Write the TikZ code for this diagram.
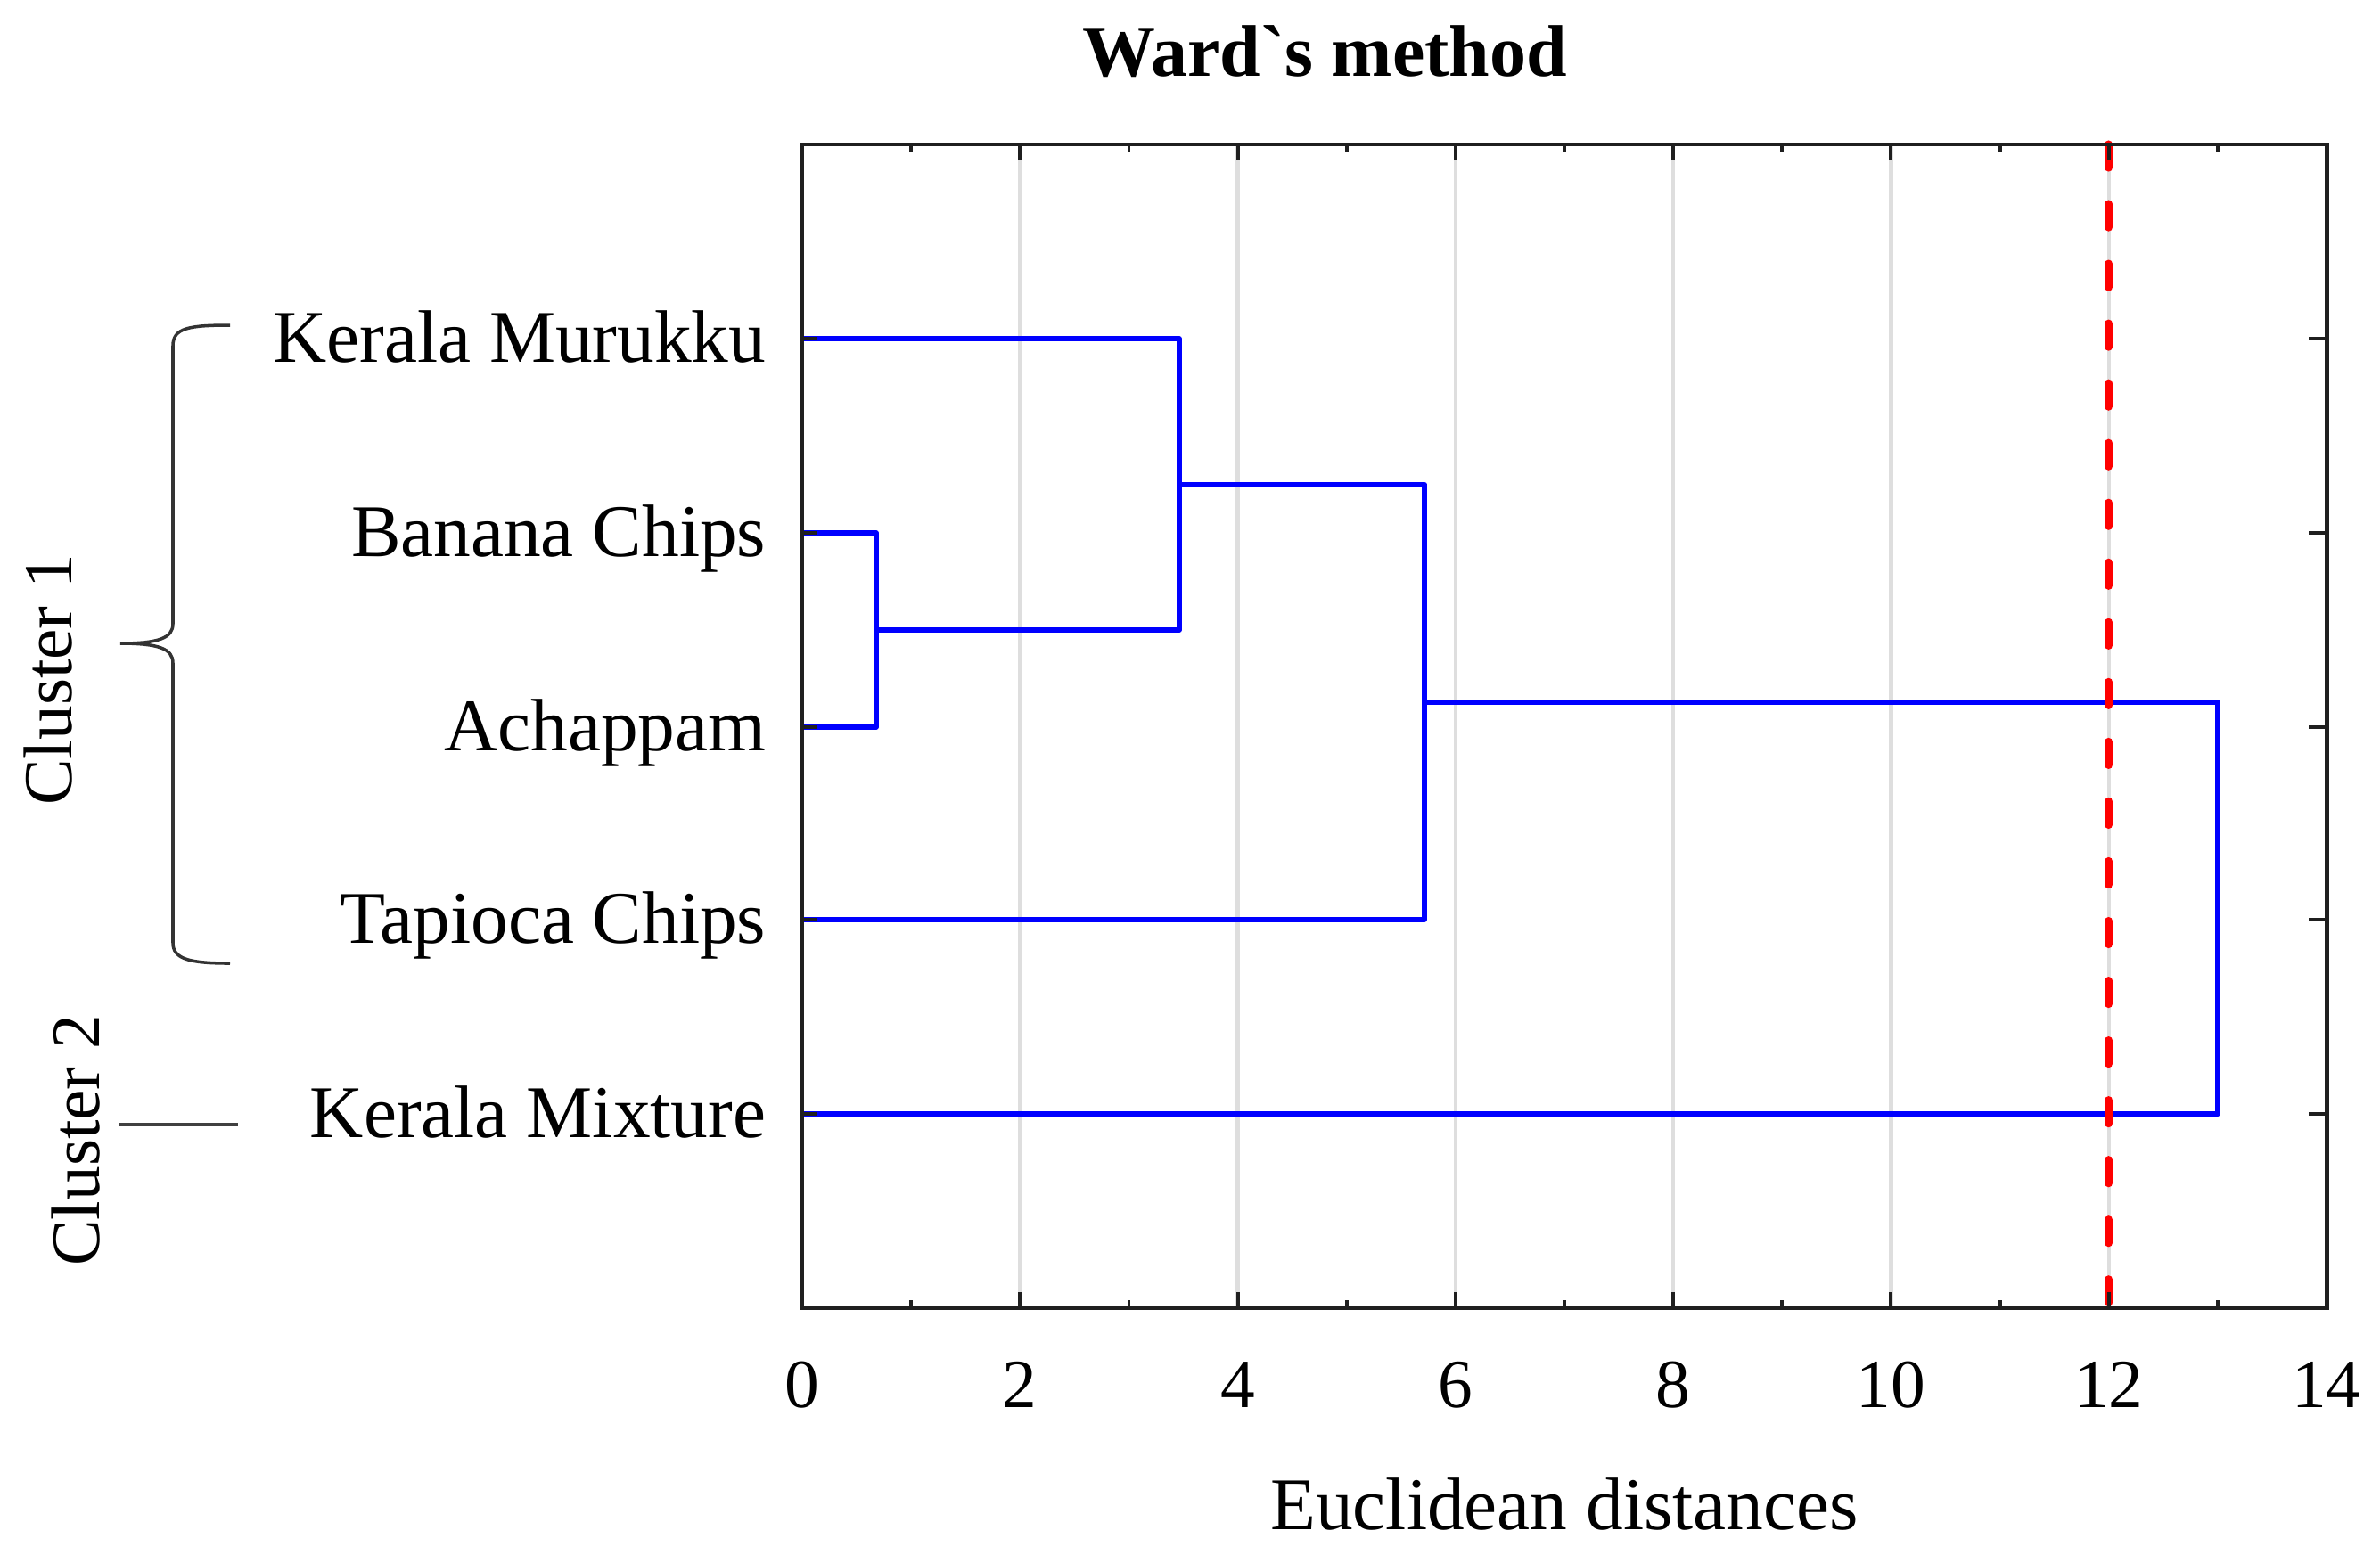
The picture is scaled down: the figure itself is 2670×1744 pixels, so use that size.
\documentclass[tikz,border=0pt]{standalone}
\usepackage{fontspec}
\setmainfont{Liberation Serif}
\newfontfamily\titlefont{Liberation Serif}[Ligatures=TeXOff]
\begin{document}
\begin{tikzpicture}[x=0.01cm,y=-0.01cm,
  frame/.style={draw=black!88, line width=1.4pt},
  gridln/.style={draw=black!13, line width=1.2pt},
  tickln/.style={draw=black!88, line width=1.1pt},
  dend/.style={draw=blue, line width=1.55pt, line join=round},
  cut/.style={draw=red, line width=2.6pt, line cap=round, dash pattern=on 0.26cm off 0.41cm},
  lab/.style={inner sep=0pt, font=\fontsize{23.7pt}{28pt}\selectfont},
  num/.style={inner sep=0pt, font=\fontsize{22pt}{26pt}\selectfont},
  clab/.style={inner sep=0pt, rotate=90, anchor=base, font=\fontsize{22pt}{26pt}\selectfont},
  brace/.style={draw=black!80, line width=1pt},
]
\useasboundingbox (0,0) rectangle (2670,1744);
\fill[white] (0,0) rectangle (2670,1744);

% grid
\foreach \v in {2,4,...,12} {
  \draw[gridln] ({900+122.14*\v},162) -- ({900+122.14*\v},1468);
}

% leaf coordinates
\coordinate (km) at (900,380);
\coordinate (ba) at (900,598);
\coordinate (ac) at (900,816);
\coordinate (tc) at (900,1032);
\coordinate (mx) at (900,1250);
% merge points
\coordinate (m1) at (983,707);
\coordinate (m2) at (1323,543.5);
\coordinate (m3) at (1598,788);
\coordinate (m4) at (2488,1019);

% dendrogram
\draw[dend] (ba) -| (m1) |- (ac);
\draw[dend] (m1) -| (m2) |- (km);
\draw[dend] (m2) -| (m3) |- (tc);
\draw[dend] (m3) -| (m4) |- (mx);

% cut line
\coordinate (cutT) at (2365.7,162);
\coordinate (cutB) at (2365.7,1468);
\draw[cut] (cutT) -- (cutB);

% ticks
\foreach \v in {0,...,14} {
  \pgfmathsetmacro{\tl}{ifthenelse(mod(\v,2)==0,18,9)}
  \draw[tickln] ({900+122.14*\v},1468) -- ({900+122.14*\v},{1468-\tl});
  \draw[tickln] ({900+122.14*\v},162) -- ({900+122.14*\v},{162+\tl});
}
\foreach \r in {380,598,816,1032,1250} {
  \draw[tickln] (900,\r) -- (916,\r);
  \draw[tickln] (2610,\r) -- (2590,\r);
}

% frame
\draw[frame] (900,162) rectangle (2610,1468);

% tick labels
\foreach \v in {0,2,...,14} {
  \node[num, anchor=base] (n\v) at ({900+122.14*\v},1579) {\v};
}

% leaf labels
\node[lab, anchor=base east] (tkm) at (860,406) {Kerala Murukku};
\node[lab, anchor=base east] (tba) at (860,624) {Banana Chips};
\node[lab, anchor=base east] (tac) at (860,842) {Achappam};
\node[lab, anchor=base east] (ttc) at (860,1058) {Tapioca Chips};
\node[lab, anchor=base east] (tmx) at (860,1276) {Kerala Mixture};

% titles
\node[inner sep=0pt, anchor=base, font=\titlefont\bfseries\fontsize{23.3pt}{28pt}\selectfont] (title) at (1486,85) {Ward`s method};
\node[lab, anchor=base] (xlab) at (1755,1716) {Euclidean distances};

% cluster annotations
\node[clab] (c1) at (80,763) {Cluster 1};
\node[clab] (c2) at (111,1280) {Cluster 2};
\coordinate (bT) at (258,365);
\coordinate (bB) at (258,1081);
\coordinate (bM) at (135,722);
\draw[brace] (bT) .. controls (212,365) and (194,368) .. (194,388)
  -- (194,700) .. controls (194,716) and (178,722) .. (bM)
  .. controls (178,722) and (194,728) .. (194,744)
  -- (194,1058) .. controls (194,1076) and (212,1081) .. (bB);
\coordinate (c2a) at (133,1262);
\coordinate (c2b) at (267,1262);
\draw[draw=black!75, line width=1.1pt] (c2a) -- (c2b);
\end{tikzpicture}
\end{document}
